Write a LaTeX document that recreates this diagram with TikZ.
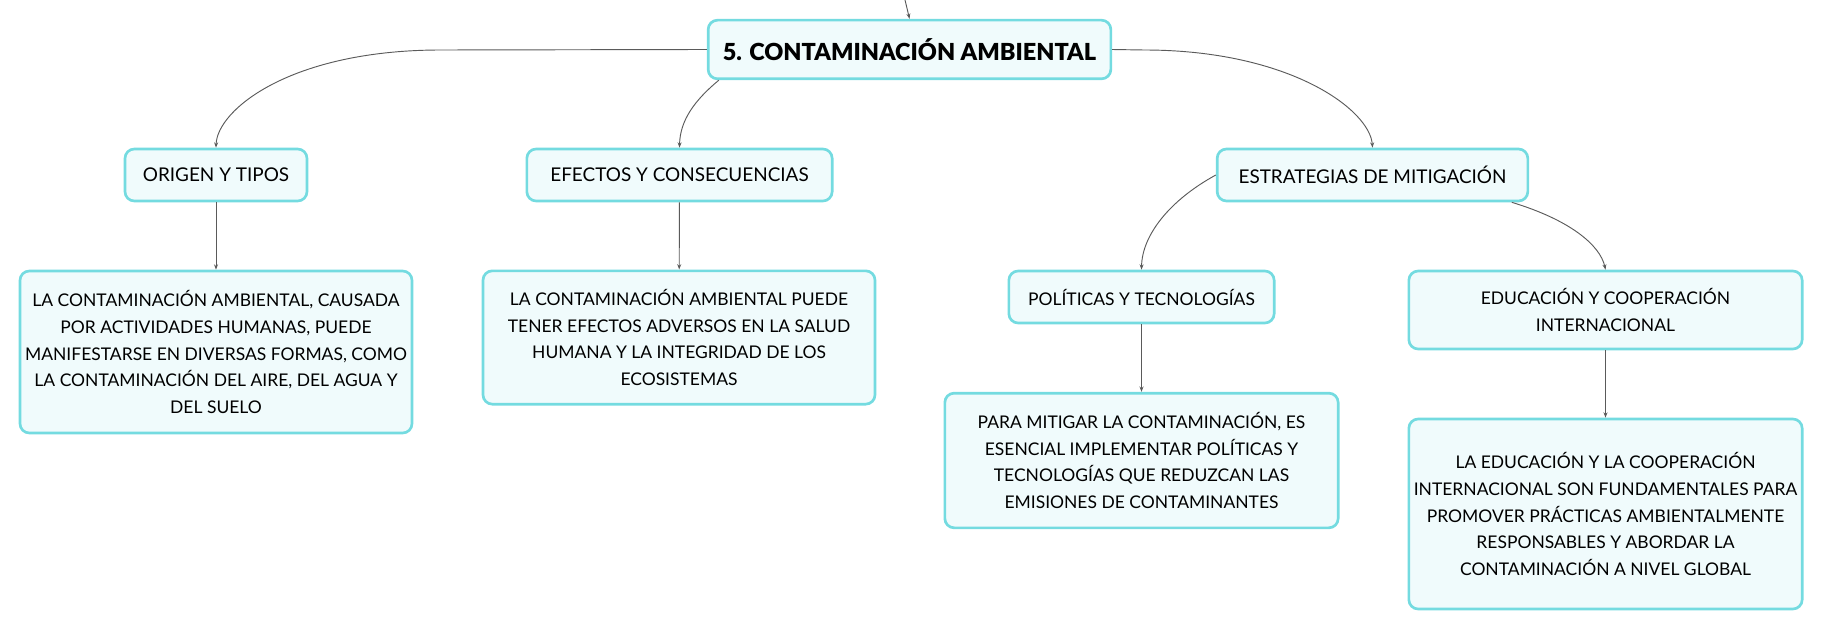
\documentclass[tikz,border=0pt]{standalone}
\usepackage{fontspec}
\setmainfont{Lato}
\newfontfamily\heavyfont{Lato Black}
\usetikzlibrary{arrows.meta}

\begin{document}
\begin{tikzpicture}[x=0.75pt, y=-0.75pt,
    box/.style={draw=boxline, fill=boxfill, line width=2pt, rounded corners=7pt,
        align=center, inner sep=0pt, font=\fontsize{13.1}{20}\selectfont},
    head/.style={box, minimum height=39pt, font=\fontsize{14.2}{20}\selectfont},
    link/.style={draw=linkgray, line width=0.7pt, -{Stealth[length=4pt, width=3pt]}}]
            \definecolor{boxline}{RGB}{116,219,224}
            \definecolor{boxfill}{RGB}{240,251,252}
            \definecolor{linkgray}{RGB}{90,90,90}
            \useasboundingbox (0, 0) rectangle (1821, 631);
            \node[box, minimum width=302pt, minimum height=44pt, font=\fontsize{17.6}{22}\selectfont\heavyfont]
                (cen) at (909.5, 49.5) {5. CONTAMINACIÓN AMBIENTAL};
            \node[head, minimum width=136.5pt] (org) at (216, 175) {ORIGEN Y TIPOS};
            \node[head, minimum width=229pt] (efe) at (679.5, 175) {EFECTOS Y CONSECUENCIAS};
            \node[head, minimum width=233pt] (est) at (1372.5, 175) {ESTRATEGIAS DE MITIGACIÓN};
            \node[box, minimum width=294pt, minimum height=121.5pt] (orgtxt) at (216, 352)
                {LA CONTAMINACIÓN AMBIENTAL, CAUSADA\\POR ACTIVIDADES HUMANAS, PUEDE\\MANIFESTARSE EN DIVERSAS FORMAS, COMO\\LA CONTAMINACIÓN DEL AIRE, DEL AGUA Y\\DEL SUELO};
            \node[box, minimum width=294pt, minimum height=100pt] (efetxt) at (679, 337.5)
                {LA CONTAMINACIÓN AMBIENTAL PUEDE\\TENER EFECTOS ADVERSOS EN LA SALUD\\HUMANA Y LA INTEGRIDAD DE LOS\\ECOSISTEMAS};
            \node[box, minimum width=199pt, minimum height=39pt] (pol) at (1141.5, 297) {POLÍTICAS Y TECNOLOGÍAS};
            \node[box, minimum width=295pt, minimum height=101pt] (poltxt) at (1141.5, 460.5)
                {PARA MITIGAR LA CONTAMINACIÓN, ES\\ESENCIAL IMPLEMENTAR POLÍTICAS Y\\TECNOLOGÍAS QUE REDUZCAN LAS\\EMISIONES DE CONTAMINANTES};
            \node[box, minimum width=295pt, minimum height=58.5pt] (edu) at (1605.5, 310)
                {EDUCACIÓN Y COOPERACIÓN\\INTERNACIONAL};
            \node[box, minimum width=295pt, minimum height=142.5pt] (edutxt) at (1605.5, 514)
                {LA EDUCACIÓN Y LA COOPERACIÓN\\INTERNACIONAL SON FUNDAMENTALES PARA\\PROMOVER PRÁCTICAS AMBIENTALMENTE\\RESPONSABLES Y ABORDAR LA\\CONTAMINACIÓN A NIVEL GLOBAL};
            \coordinate (top) at (905, 0);
            \coordinate (bendl) at (441, 50);
            \coordinate (bendr) at (1144, 50);
            \draw[link] (top) .. controls (907, 8) .. (cen.north);
            \draw[link] (cen.west) -- (bendl) .. controls (290, 50) and (217, 110) .. (org.north);
            \draw[link] ([xshift=9pt]cen.south west) .. controls (695, 100) and (680, 120) .. (efe.north);
            \draw[link] (cen.east) -- (bendr) .. controls (1290, 50) and (1370, 110) .. (est.north);
            \draw[link] (org) -- (orgtxt);
            \draw[link] (efe) -- (efetxt);
            \draw[link] (est.west) .. controls (1170, 200) and (1142, 235) .. (pol.north);
            \draw[link] ([xshift=-13pt]est.south east) .. controls (1570, 220) and (1600, 245) .. (edu.north);
            \draw[link] (pol) -- (poltxt);
            \draw[link] (edu) -- (edutxt);
        \end{tikzpicture}
\end{document}
